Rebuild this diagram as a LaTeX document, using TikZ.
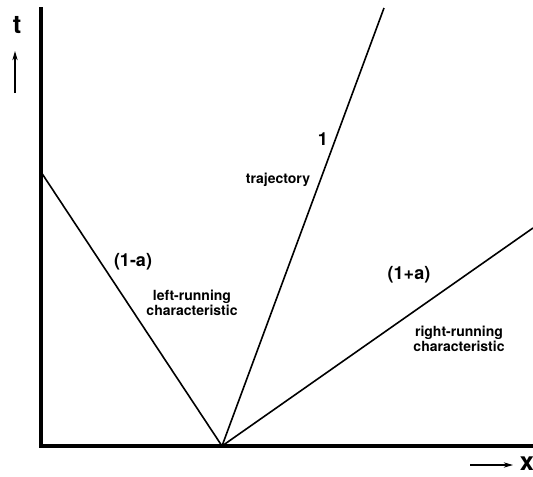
\documentclass[tikz,border=0pt]{standalone}
\usepackage{fontspec}
\setmainfont{TeX Gyre Heros}
\usetikzlibrary{arrows.meta}

\begin{document}
\begin{tikzpicture}[
    x=0.75pt, y=-0.75pt,
    axis/.style={line width=2.3pt},
    ray/.style={line width=1.2pt},
    arrow/.style={-{Stealth[length=7pt, width=4pt]}, line width=0.8pt},
    lbl/.style={font=\bfseries\fontsize{10.5}{11.5}\selectfont, inner sep=0pt, align=center},
    slope/.style={font=\bfseries\fontsize{13.5}{14}\selectfont, inner sep=0pt},
    varname/.style={font=\bfseries\fontsize{19}{20}\selectfont, inner sep=0pt}
]
\useasboundingbox (0,0) rectangle (533,476);

% axes and rays
\coordinate (top) at (41,7);
\coordinate (origin) at (41,446);
\coordinate (xend) at (533,446);
\coordinate (vertex) at (222,446);
\coordinate (lefttop) at (41,172);
\coordinate (trajtop) at (384,8);
\coordinate (righttop) at (533,228);

\draw[axis] (top) -- (origin) -- (xend);
\draw[ray] (vertex) -- (lefttop);
\draw[ray] (vertex) -- (trajtop);
\draw[ray] (vertex) -- (righttop);

% axis names
\node[varname] (tname) at (17,25) {t};
\coordinate (tfoot) at (15,93);
\coordinate (thead) at (15,51);
\draw[arrow] (tfoot) -- (thead);
\node[varname] (xname) at (527,464) {x};
\coordinate (xfoot) at (470,465);
\coordinate (xhead) at (513,465);
\draw[arrow] (xfoot) -- (xhead);

% labels
\node[slope] (lslope) at (133,262) {(1-a)};
\node[lbl] (lchar) at (192,303) {left-running\\characteristic};
\node[slope] (tslope) at (323,139) {1};
\node[lbl] (traj) at (278,180) {trajectory};
\node[slope] (rslope) at (409,275) {(1+a)};
\node[lbl] (rchar) at (459,339) {right-running\\characteristic};
\end{tikzpicture}
\end{document}
